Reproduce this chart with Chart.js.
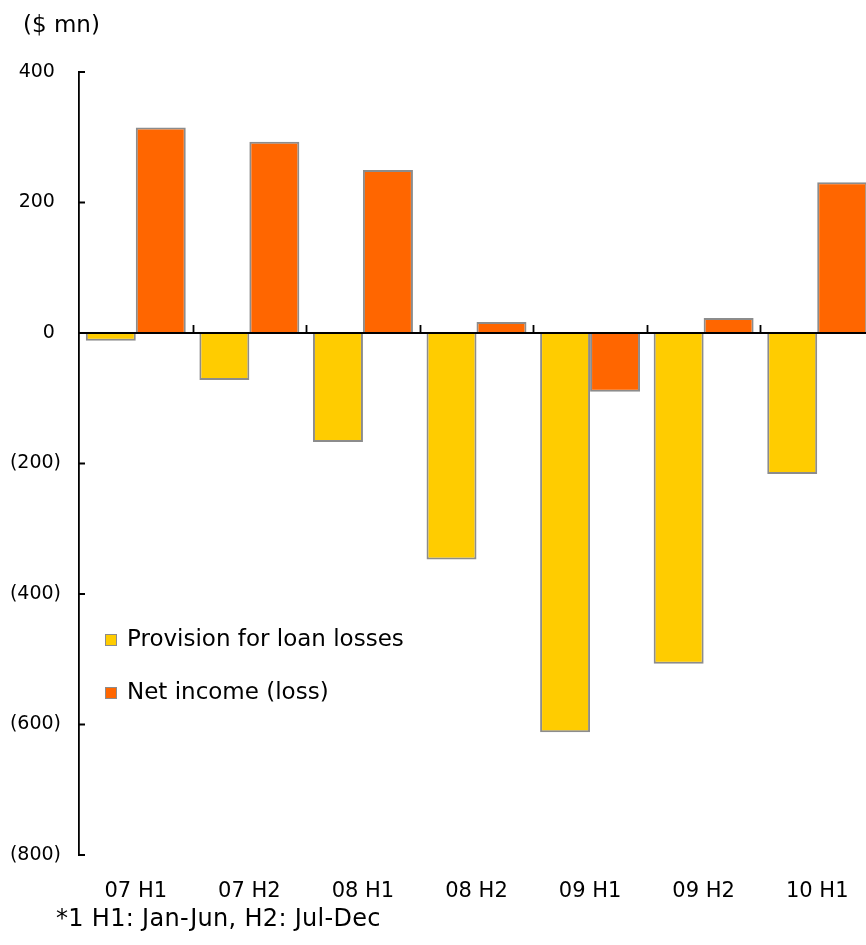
<!DOCTYPE html>
<html>
<head>
<meta charset="utf-8">
<script src="https://cdn.jsdelivr.net/npm/chart.js@4.4.1/dist/chart.umd.min.js"></script>
<style>
  html, body { margin: 0; padding: 0; overflow: hidden; background: #fff; }
  body { font-family: "DejaVu Sans", sans-serif; color: #000; }
  #wrap { position: relative; width: 880px; height: 945px; }
  #myChart { position: absolute; left: 0; top: 0; }
  .unit { position: absolute; left: 23px; top: 11px; font-size: 23px; }
  .note { position: absolute; left: 56px; top: 904px; font-size: 24px; letter-spacing: 0.3px; }
  .legend { position: absolute; left: 105px; top: 625px; font-size: 23px; }
  .legend div { height: 53px; display: flex; align-items: flex-start; }
  .legend span.box { display: inline-block; width: 10px; height: 10px; border: 1.5px solid #8c8c8c; margin: 9px 10px 0 0; }
</style>
</head>
<body>
<div id="wrap">
  <canvas id="myChart" width="880" height="945"></canvas>
  <div class="unit">($ mn)</div>
  <div class="legend" id="legend"></div>
  <div class="note">*1 H1: Jan-Jun, H2: Jul-Dec</div>
</div>
<script>
const ctx = document.getElementById('myChart');
const legendBox = document.getElementById('legend');

const periods = ['07 H1', '07 H2', '08 H1', '08 H2', '09 H1', '09 H2', '10 H1'];
const seriesNames = ['Provision for loan losses', 'Net income (loss)'];
const provision = [-12, -72, -167, -347, -612, -507, -216];
const netIncome = [315, 293, 250, 17, -90, 23, 231];
const yTicks = [400, 200, 0, -200, -400, -600, -800];

const colors = ['#FFCC00', '#FF6600'];
const edge = '#8c8c8c';

// legend as html
seriesNames.forEach((name, i) => {
  const row = document.createElement('div');
  const box = document.createElement('span');
  box.className = 'box';
  box.style.background = colors[i];
  row.appendChild(box);
  row.appendChild(document.createTextNode(name));
  legendBox.appendChild(row);
});

function fmt(v) {
  if (v < 0) return '(' + Math.abs(v) + ')';
  return v + ' ';
}

// zero line + inward tick marks
const axisMarks = {
  id: 'axisMarks',
  afterDatasetsDraw(chart) {
    const c = chart.ctx;
    const xs = chart.scales.x;
    const ys = chart.scales.y;
    const area = chart.chartArea;
    const y0 = ys.getPixelForValue(0);
    c.save();
    c.strokeStyle = '#000';
    c.lineWidth = 1.8;
    c.beginPath();
    c.moveTo(area.left, y0);
    c.lineTo(area.right, y0);
    yTicks.forEach(t => {
      const y = ys.getPixelForValue(t);
      c.moveTo(area.left, y);
      c.lineTo(area.left + 6, y);
    });
    const half = (xs.getPixelForValue(1) - xs.getPixelForValue(0)) / 2;
    for (let i = 0; i < periods.length - 1; i++) {
      const x = Math.round(xs.getPixelForValue(i) + half) + 0.5;
      c.moveTo(x, y0);
      c.lineTo(x, y0 - 8);
    }
    c.stroke();
    c.restore();
  }
};

new Chart(ctx, {
  type: 'bar',
  data: {
    labels: periods,
    datasets: [{
      label: seriesNames[0],
      data: provision,
      backgroundColor: colors[0],
      borderColor: edge,
      borderWidth: 2
    }, {
      label: seriesNames[1],
      data: netIncome,
      backgroundColor: colors[1],
      borderColor: edge,
      borderWidth: 2
    }]
  },
  options: {
    responsive: false,
    animation: false,
    layout: { padding: { top: 72, right: 6, left: 0, bottom: 0 } },
    plugins: {
      legend: { display: false },
      tooltip: { enabled: false }
    },
    datasets: {
      bar: { categoryPercentage: 0.88, barPercentage: 1.0 }
    },
    scales: {
      x: {
        grid: { display: false, drawTicks: false },
        border: { display: false },
        ticks: {
          color: '#000',
          padding: 24,
          maxRotation: 0,
          font: { family: 'DejaVu Sans', size: 21 }
        },
        afterFit(scale) { scale.height = 90; }
      },
      y: {
        min: -800,
        max: 400,
        grid: { display: false, drawTicks: false },
        border: { display: true, color: '#000', width: 1.8 },
        afterBuildTicks(scale) { scale.ticks = yTicks.map(v => ({ value: v })); },
        ticks: {
          color: '#000',
          padding: 18,
          callback: v => fmt(v),
          font: { family: 'DejaVu Sans', size: 19 }
        },
        afterFit(scale) { scale.width = 79; }
      }
    }
  },
  plugins: [axisMarks]
});
</script>
</body>
</html>
